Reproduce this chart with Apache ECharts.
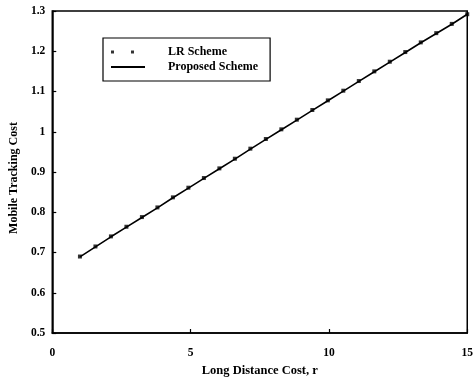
<!DOCTYPE html>
<html>
<head>
<meta charset="utf-8">
<script src="https://cdn.jsdelivr.net/npm/echarts@6/dist/echarts.min.js"></script>
<style>html,body{margin:0;padding:0;background:#fff}#c{width:476px;height:382px}</style>
</head>
<body>
<div id="c"></div>
<script>
// Long distance cost r
var rValues = [1.00, 1.56, 2.12, 2.68, 3.24, 3.80, 4.36, 4.92, 5.48, 6.04, 6.60, 7.16, 7.72,
               8.28, 8.84, 9.40, 9.96, 10.52, 11.08, 11.64, 12.20, 12.76, 13.32, 13.88, 14.44, 15.00];
// LR Scheme mobile tracking cost
var lrCost = [0.690, 0.715, 0.740, 0.764, 0.788, 0.812, 0.837, 0.861, 0.885, 0.909, 0.933, 0.958, 0.982,
              1.006, 1.030, 1.054, 1.078, 1.102, 1.126, 1.150, 1.174, 1.198, 1.222, 1.245, 1.268, 1.292];
// Proposed Scheme mobile tracking cost
var proposedCost = [0.689, 0.714, 0.739, 0.763, 0.787, 0.811, 0.836, 0.860, 0.884, 0.908, 0.932, 0.957, 0.981,
                    1.005, 1.029, 1.053, 1.077, 1.101, 1.125, 1.149, 1.173, 1.197, 1.221, 1.244, 1.267, 1.292];
var seriesNames = ['LR Scheme', 'Proposed Scheme'];
var xTicks = [0, 5, 10, 15];
var yTicks = [0.5, 0.6, 0.7, 0.8, 0.9, 1, 1.1, 1.2, 1.3];

function pairs(xs, ys) { return xs.map(function (x, i) { return [x, ys[i]]; }); }

var font = 'Liberation Serif';
var chart = echarts.init(document.getElementById('c'));
chart.setOption({
  animation: false,
  backgroundColor: '#fff',
  grid: { left: 50, right: 7, top: 11, bottom: 39, show: true, borderColor: '#000', borderWidth: 1.5, backgroundColor: 'transparent' },
  xAxis: {
    type: 'value', min: xTicks[0], max: xTicks[xTicks.length - 1], interval: 5,
    name: 'Long Distance Cost, r', nameLocation: 'middle', nameGap: 31,
    nameTextStyle: { fontFamily: font, fontSize: 12.5, fontWeight: 'bold', color: '#000' },
    axisLine: { lineStyle: { color: '#000', width: 1.5 } },
    axisTick: { inside: true, length: 4, lineStyle: { color: '#000', width: 1.2 } },
    axisLabel: { fontFamily: font, fontSize: 11.5, fontWeight: 'bold', color: '#000', margin: 14 },
    splitLine: { show: false }
  },
  yAxis: {
    type: 'value', min: yTicks[0], max: yTicks[yTicks.length - 1], interval: 0.1,
    name: 'Mobile Tracking Cost', nameLocation: 'middle', nameGap: 31,
    nameTextStyle: { fontFamily: font, fontSize: 12, fontWeight: 'bold', color: '#000', padding: [0, 12, 0, 0] },
    axisLine: { lineStyle: { color: '#000', width: 1.5 } },
    axisTick: { inside: true, length: 4, lineStyle: { color: '#000', width: 1.2 } },
    axisLabel: { fontFamily: font, fontSize: 11.5, fontWeight: 'bold', color: '#000', margin: 7 },
    splitLine: { show: false }
  },
  legend: {
    left: 103, top: 38, orient: 'vertical',
    padding: [8, 12, 8, 8],
    itemWidth: 34, itemHeight: 10, itemGap: 3,
    borderColor: '#000', borderWidth: 1.2, backgroundColor: '#fff',
    textStyle: { fontFamily: font, fontSize: 12, fontWeight: 'bold', color: '#000', padding: [0, 0, 0, 18] },
    data: [
      { name: seriesNames[0], icon: 'path://M0,0h3v3h-3z M20,0h3v3h-3z M34,1.5h0.01v0.01h-0.01z', itemStyle: { color: '#000' } },
      { name: seriesNames[1], icon: 'path://M0,0h34v2h-34z', itemStyle: { color: '#000' } }
    ]
  },
  series: [
    {
      name: seriesNames[1], type: 'line', data: pairs(rValues, proposedCost),
      symbol: 'none', lineStyle: { color: '#000', width: 1.6 }, itemStyle: { color: '#000' }, z: 2
    },
    {
      name: seriesNames[0], type: 'scatter', data: pairs(rValues, lrCost),
      symbol: 'rect', symbolSize: 4, itemStyle: { color: '#000' }, z: 3
    }
  ]
});
</script>
</body>
</html>
